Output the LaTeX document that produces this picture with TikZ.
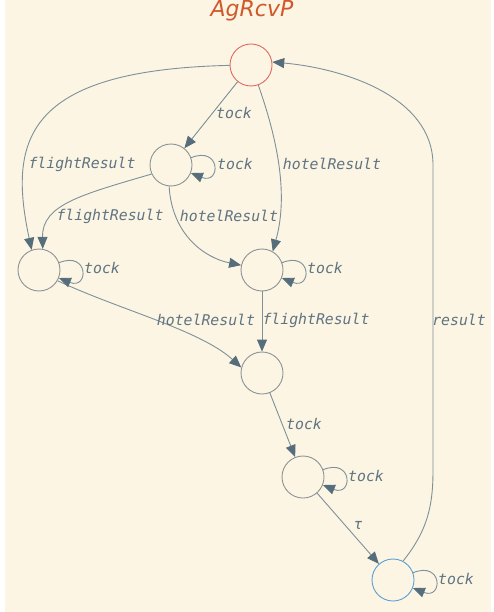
\documentclass[tikz,border=0pt]{standalone}
\usepackage{fontspec}
\usetikzlibrary{arrows.meta}
\newfontfamily\lblfont{DejaVu Sans Mono}
\newfontfamily\titlefont{DejaVu Sans}
\definecolor{paper}{HTML}{FCF5E3}
\definecolor{edgecol}{HTML}{7E9099}
\definecolor{tipcol}{HTML}{566E7B}
\definecolor{txtcol}{HTML}{5F7482}
\definecolor{statecol}{HTML}{8C9396}
\definecolor{initcol}{HTML}{E06A63}
\definecolor{finalcol}{HTML}{5B9FD6}
\definecolor{titlecol}{HTML}{D0582A}
\tikzset{
  state/.style={circle, draw=statecol, line width=0.9pt, minimum size=42pt, inner sep=0pt},
  trans/.style={draw=edgecol, line width=0.9pt,
    -{Triangle[length=12pt,width=10pt,color=tipcol]}},
  lbl/.style={text=txtcol, font=\lblfont\itshape\fontsize{14.8}{16}\selectfont, inner sep=0pt}
}
\begin{document}
\begin{tikzpicture}[x=1pt,y=-1pt]
\useasboundingbox (0,0) rectangle (494,612);
\fill[white] (0,0) rectangle (494,612);
\fill[paper] (5,0) rectangle (491,612);

\node[text=titlecol, font=\titlefont\itshape\fontsize{22}{24}\selectfont] (title) at (252,11) {AgRcvP};

% states
\node[state, draw=initcol] (s0) at (251,65) {};
\node[state] (s1) at (171,165) {};
\node[state] (s2) at (39,270) {};
\node[state] (s3) at (262,270) {};
\node[state] (s4) at (262,373) {};
\node[state] (s5) at (303,477) {};
\node[state, draw=finalcol] (s6) at (393,580) {};

% transitions
\draw[trans] (s0) -- (s1);
\draw[trans] (s0.181) .. controls (25,70) and (8,140) .. (s2.110);
\draw[trans] (s0.-70) .. controls (274,130) and (290,190) .. (s3.60);
\draw[trans] (s1.205) .. controls (80,195) and (42,205) .. (s2.80);
\draw[trans] (s1.-95) .. controls (172,235) and (205,258) .. (s3.167);
\draw[trans] (s2.-30) .. controls (120,310) and (200,330) .. (s4.165);
\draw[trans] (s3) -- (s4);
\draw[trans] (s4) -- (s5);
\draw[trans] (s5) -- (s6);
\draw[trans] (s6.62) .. controls (428,530) and (433,505) .. (433,470)
  -- (433,165) .. controls (433,95) and (340,68) .. (s0.8);

% self loops
\foreach \s in {s1,s2,s3,s5,s6}{
  \draw[trans] (\s.20) .. controls +(30,-12) and +(30,12) .. (\s.-22);
}

% labels
\node[lbl] (l01) at (234,113) {tock};
\node[lbl] (l02) at (82,164) {flightResult};
\node[lbl] (l03) at (332,164) {hotelResult};
\node[lbl] (l11) at (235,164) {tock};
\node[lbl] (l12) at (110,216) {flightResult};
\node[lbl] (l13) at (229,216) {hotelResult};
\node[lbl] (l22) at (102,268) {tock};
\node[lbl] (l33) at (325,268) {tock};
\node[lbl] (l24) at (206,320) {hotelResult};
\node[lbl] (l34) at (316,320) {flightResult};
\node[lbl] (l45) at (304,424) {tock};
\node[lbl] (l55) at (366,476) {tock};
\node[lbl] (l56) at (358,525) {τ};
\node[lbl] (l60) at (459,320) {result};
\node[lbl] (l66) at (456,579) {tock};
\end{tikzpicture}
\end{document}
